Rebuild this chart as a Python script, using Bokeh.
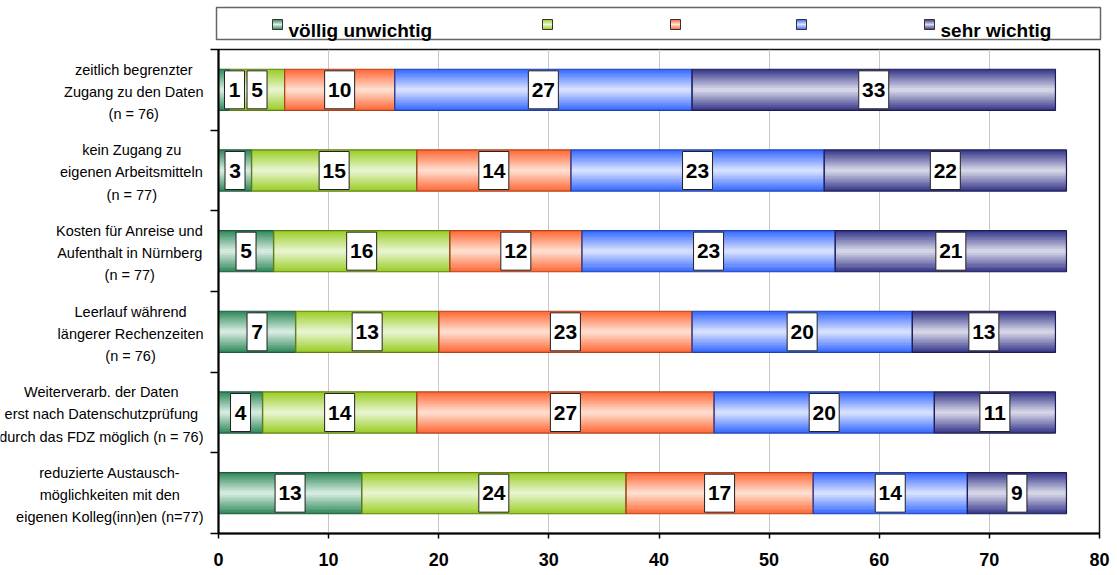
from bokeh.plotting import figure
from bokeh.layouts import column, row
from bokeh.models import Range1d, FixedTicker, ColumnDataSource, Spacer
from bokeh.core.properties import value
from bokeh.embed import file_html
from bokeh.resources import INLINE

# ---- data ---------------------------------------------------------------
categories = [
    "zeitlich begrenzter\nZugang zu den Daten\n(n = 76)",
    "kein Zugang zu\neigenen Arbeitsmitteln\n(n = 77)",
    "Kosten für Anreise und\nAufenthalt in Nürnberg\n(n = 77)",
    "Leerlauf während\nlängerer Rechenzeiten\n(n = 76)",
    "Weiterverarb. der Daten\nerst nach Datenschutzprüfung\ndurch das FDZ möglich (n = 76)",
    "reduzierte Austausch-\nmöglichkeiten mit den\neigenen Kolleg(inn)en (n=77)",
]
series_names = ["völlig unwichtig", "", "", "", "sehr wichtig"]
s1_voellig_unwichtig = [1, 3, 5, 7, 4, 13]
s2 = [5, 15, 16, 13, 14, 24]
s3 = [10, 14, 12, 23, 27, 17]
s4 = [27, 23, 23, 20, 20, 14]
s5_sehr_wichtig = [33, 22, 21, 13, 11, 9]
series = [s1_voellig_unwichtig, s2, s3, s4, s5_sehr_wichtig]
x_ticks = [0, 10, 20, 30, 40, 50, 60, 70, 80]
X_MAX = 80

# ---- styling ------------------------------------------------------------
# (edge colour, centre colour, outline colour) of the banded fill per series
palette = [
    ("#2c8758", "#dcefe5", "#1d5a3b"),
    ("#99cc22", "#eaf6d5", "#5f7f10"),
    ("#ff6633", "#ffe2d4", "#b2401a"),
    ("#3366ff", "#dde5ff", "#1f3fb0"),
    ("#333388", "#dcdcec", "#1c1c55"),
]
FONT = "Liberation Sans"
BAR_H = 0.51
N_BANDS = 22

# page geometry (pixels)
LABEL_W = 204          # width of the caption column left of the chart
AXIS_BORDER = 14       # room for the left axis ticks
RIGHT_BORDER = 18
TOP_BORDER = 4
BOTTOM_BORDER = 42
LEGEND_H = 45
CHART_H = 530
CHART_W = 1117 - LABEL_W
FRAME_L = LABEL_W + AXIS_BORDER
FRAME_R = 1117 - RIGHT_BORDER
PX_PER_UNIT = (FRAME_R - FRAME_L) / X_MAX


def mix(c1, c2, t):
    a = [int(c1[i:i + 2], 16) for i in (1, 3, 5)]
    b = [int(c2[i:i + 2], 16) for i in (1, 3, 5)]
    return "#%02x%02x%02x" % tuple(round(a[k] + (b[k] - a[k]) * t) for k in range(3))


def band_colors(edge, centre, n):
    out = []
    for i in range(n):
        s = (i + 0.5) / n
        t = 1 - abs(2 * s - 1)
        out.append(mix(edge, centre, t))
    return out


# Arial / Liberation advance widths (per 1000 em), used to right-align the
# wrapped category blocks while keeping each line centred
_W = {" ": 278, "(": 333, ")": 333, "-": 333, ".": 278, "=": 584,
      "a": 556, "b": 556, "c": 500, "d": 556, "e": 556, "f": 278, "g": 556,
      "h": 556, "i": 222, "j": 222, "k": 500, "l": 222, "m": 833, "n": 556,
      "o": 556, "p": 556, "q": 556, "r": 333, "s": 500, "t": 278, "u": 556,
      "v": 500, "w": 722, "x": 500, "y": 500, "z": 500, "ä": 556, "ö": 556,
      "ü": 556, "A": 667, "D": 722, "F": 611, "K": 667, "L": 556, "N": 722,
      "R": 722, "W": 944, "Z": 611}


def text_width(s, size):
    return sum(_W.get(ch, 556) for ch in s) / 1000 * size


CAT_SIZE = 14.5

y_range = Range1d(len(categories) - 0.5, -0.5)

# ---- main chart ---------------------------------------------------------
p = figure(width=CHART_W, height=CHART_H, title=None,
           x_range=Range1d(0, X_MAX), y_range=y_range,
           output_backend="svg", toolbar_location=None,
           min_border_left=AXIS_BORDER, min_border_right=RIGHT_BORDER,
           min_border_top=TOP_BORDER, min_border_bottom=BOTTOM_BORDER)
p.background_fill_color = "white"
p.border_fill_color = "white"
p.outline_line_color = "#111111"
p.outline_line_width = 1.5

p.xaxis.ticker = FixedTicker(ticks=x_ticks)
p.xaxis.major_label_text_font = FONT
p.xaxis.major_label_text_font_style = "bold"
p.xaxis.major_label_text_font_size = "18px"
p.xaxis.major_label_text_color = "black"
p.xaxis.major_tick_out = 5
p.xaxis.major_tick_in = 0
p.xaxis.minor_tick_line_color = None
p.xaxis.axis_line_width = 2
p.xaxis.axis_line_color = "black"
p.xaxis.major_tick_line_color = "black"
p.xaxis.major_tick_line_width = 1.5
p.xaxis.major_label_standoff = 14

bounds = [i - 0.5 for i in range(len(categories) + 1)]
p.yaxis.ticker = FixedTicker(ticks=bounds)
p.yaxis.major_label_overrides = {b: "" for b in bounds}
p.yaxis.major_label_standoff = 0
p.yaxis.major_tick_out = 8
p.yaxis.major_tick_in = 0
p.yaxis.minor_tick_line_color = None
p.yaxis.axis_line_width = 2
p.yaxis.axis_line_color = "black"
p.yaxis.major_tick_line_color = "black"
p.yaxis.major_tick_line_width = 1.5

p.xgrid.ticker = FixedTicker(ticks=x_ticks[1:-1])
p.xgrid.grid_line_color = "#c8c8c8"
p.xgrid.grid_line_width = 1
p.ygrid.grid_line_color = None

# banded segments
band = dict(left=[], right=[], top=[], bottom=[], color=[])
outline = dict(left=[], right=[], y=[], color=[])
labels = dict(xc=[], y=[], txt=[], bw=[])
d = BAR_H / N_BANDS
for ci in range(len(categories)):
    start = 0
    for si, vals in enumerate(series):
        v = vals[ci]
        edge, centre, line = palette[si]
        cols = band_colors(edge, centre, N_BANDS)
        y0 = ci - BAR_H / 2
        y1 = ci + BAR_H / 2
        for k in range(N_BANDS):
            band["left"].append(start)
            band["right"].append(start + v)
            band["top"].append(y0 + k * d)
            band["bottom"].append(min(y0 + (k + 1.4) * d, y1))
            band["color"].append(cols[k])
        outline["left"].append(start)
        outline["right"].append(start + v)
        outline["y"].append(ci)
        outline["color"].append(line)
        bw = 20 if v < 10 else 30
        # value labels sit mid-segment but are kept clear of the axis
        min_x = (bw / 2 + 6) / PX_PER_UNIT
        labels["xc"].append(max(start + v / 2, min_x))
        labels["y"].append(ci)
        labels["txt"].append(str(v))
        labels["bw"].append(bw)
        start += v

p.quad(left="left", right="right", top="top", bottom="bottom",
       fill_color="color", line_color=None, source=ColumnDataSource(band))
p.hbar(y="y", left="left", right="right", height=BAR_H, fill_color=None,
       line_color="color", line_width=1.2, source=ColumnDataSource(outline))

lab_src = ColumnDataSource(labels)
p.rect(x="xc", y="y", width="bw", height=38, width_units="screen",
       height_units="screen", fill_color="white", line_color="#222222",
       line_width=1, source=lab_src)
p.text(x="xc", y="y", text="txt", text_align="center", text_baseline="middle",
       text_font=value(FONT), text_font_style="bold",
       text_font_size="21px", text_color="black", source=lab_src)

# ---- category captions --------------------------------------------------
cap = figure(width=LABEL_W, height=CHART_H, title=None,
             x_range=Range1d(0, LABEL_W), y_range=y_range,
             x_axis_type=None, y_axis_type=None,
             output_backend="svg", toolbar_location=None,
             min_border_left=0, min_border_right=0,
             min_border_top=TOP_BORDER, min_border_bottom=BOTTOM_BORDER)
cap.grid.visible = False
cap.outline_line_color = None
cap.background_fill_color = "white"
cap.border_fill_color = "white"

# each wrapped block ends just left of the axis ticks, its lines centred
cap_x = [LABEL_W - 1 - max(text_width(l, CAT_SIZE) for l in c.split("\n")) / 2
         for c in categories]
cap.text(x=cap_x, y=list(range(len(categories))), text=categories,
         text_align="center", text_baseline="middle", y_offset=2,
         text_font=value(FONT), text_font_size=f"{CAT_SIZE}px",
         text_color="black", text_line_height=1.38)

# ---- legend strip -------------------------------------------------------
LG_L, LG_R = 10, 14
lg = figure(width=CHART_W, height=LEGEND_H, title=None,
            x_range=Range1d(LABEL_W + LG_L, 1117 - LG_R), y_range=Range1d(LEGEND_H, 0),
            x_axis_type=None, y_axis_type=None,
            output_backend="svg", toolbar_location=None,
            min_border_left=LG_L, min_border_right=LG_R,
            min_border_top=0, min_border_bottom=0)
lg.grid.visible = False
lg.outline_line_color = None
lg.background_fill_color = "white"
lg.border_fill_color = "white"

lg.quad(left=[216], right=[1100], top=[7], bottom=[39],
        fill_color="white", line_color="#666666", line_width=1.5)

icon_x = [272, 542, 670, 796, 924]
icon_bands = dict(left=[], right=[], top=[], bottom=[], color=[])
icon_box = dict(left=[], right=[], top=[], bottom=[])
for si, x0 in enumerate(icon_x):
    edge, centre, line = palette[si]
    cols = band_colors(edge, centre, 5)
    for k in range(5):
        icon_bands["left"].append(x0)
        icon_bands["right"].append(x0 + 10)
        icon_bands["top"].append(19 + 2 * k)
        icon_bands["bottom"].append(19 + 2 * k + 2.4)
        icon_bands["color"].append(cols[k])
    icon_box["left"].append(x0)
    icon_box["right"].append(x0 + 10)
    icon_box["top"].append(19)
    icon_box["bottom"].append(29)
lg.quad(left="left", right="right", top="top", bottom="bottom",
        fill_color="color", line_color=None, source=ColumnDataSource(icon_bands))
lg.quad(left="left", right="right", top="top", bottom="bottom",
        fill_color=None, line_color="#333333", line_width=1,
        source=ColumnDataSource(icon_box))

named = [(icon_x[i] + 16, series_names[i]) for i in range(len(series_names)) if series_names[i]]
lg.text(x=[n[0] for n in named], y=[29.5] * len(named), text=[n[1] for n in named],
        text_align="left", text_baseline="alphabetic",
        text_font=value(FONT), text_font_style="bold",
        text_font_size="19px", text_color="black")

layout = column(
    row(Spacer(width=LABEL_W, height=LEGEND_H), lg, spacing=0),
    row(cap, p, spacing=0),
    spacing=0,
)
open("out.html", "w").write(file_html(layout, INLINE))
